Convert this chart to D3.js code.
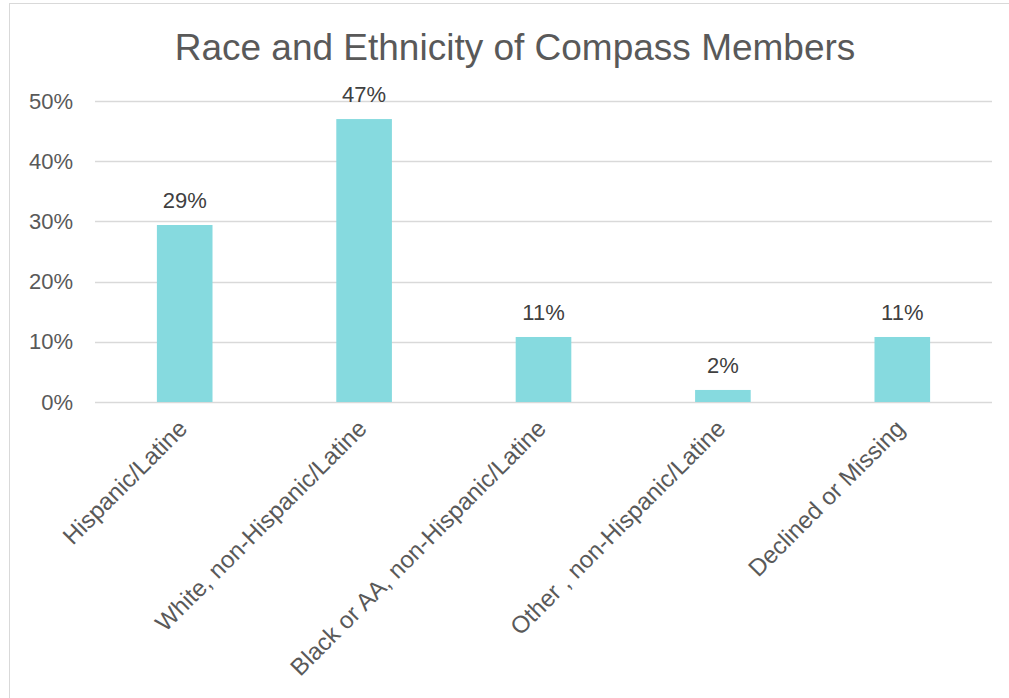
<!DOCTYPE html>
<html>
<head>
<meta charset="utf-8">
<script src="https://cdn.jsdelivr.net/npm/d3@7"></script>
<style>
  body { margin: 0; background: #fff; }
  text { font-family: "Liberation Sans", Arial, sans-serif; }
</style>
</head>
<body>
<div id="app"></div>
<script>
// chart data
const categories = [
  'Hispanic/Latine',
  'White, non-Hispanic/Latine',
  'Black or AA, non-Hispanic/Latine',
  'Other , non-Hispanic/Latine',
  'Declined or Missing'
];
const values = [0.294, 0.47, 0.108, 0.02, 0.108];
const valueLabels = ['29%', '47%', '11%', '2%', '11%'];
const yTicks = [0, 0.1, 0.2, 0.3, 0.4, 0.5];

const W = 1009, H = 698;
const margin = { top: 101, right: 17, bottom: 296, left: 95 };
const width = W - margin.left - margin.right;
const height = H - margin.top - margin.bottom;

const svg = d3.select('#app')
  .append('svg')
  .attr('width', W)
  .attr('height', H);

// chart border
svg.append('rect')
  .attr('x', 9.5).attr('y', 3.5)
  .attr('width', W + 10).attr('height', H + 10)
  .attr('fill', 'none')
  .attr('stroke', '#d9d9d9');

svg.append('text')
  .attr('x', 515).attr('y', 60)
  .attr('text-anchor', 'middle')
  .attr('font-size', 37)
  .attr('fill', '#595959')
  .text('Race and Ethnicity of Compass Members');

const g = svg.append('g')
  .attr('transform', `translate(${margin.left}, ${margin.top})`);

const x = d3.scaleBand()
  .domain(categories)
  .range([0, width])
  .paddingInner(0.69)
  .paddingOuter(0.345);

const y = d3.scaleLinear()
  .domain([0, 0.5])
  .range([height, 0]);

// gridlines
g.selectAll('.grid')
  .data(yTicks)
  .enter()
  .append('line')
  .attr('x1', 0).attr('x2', width)
  .attr('y1', d => Math.round(y(d)) + 0.5)
  .attr('y2', d => Math.round(y(d)) + 0.5)
  .attr('stroke', '#d9d9d9')
  .attr('stroke-width', 1.5);

// y axis labels
const yAxis = d3.axisLeft(y)
  .tickValues(yTicks)
  .tickFormat(d3.format('.0%'))
  .tickSize(0)
  .tickPadding(22);
g.append('g').call(yAxis)
  .call(a => a.select('.domain').remove())
  .selectAll('text')
  .attr('font-size', 22)
  .attr('fill', '#595959');

// bars
g.selectAll('.bar')
  .data(values)
  .enter()
  .append('rect')
  .attr('x', (d, i) => x(categories[i]))
  .attr('y', d => y(d))
  .attr('width', x.bandwidth())
  .attr('height', d => height - y(d))
  .attr('fill', '#86dadf');

// data labels
g.selectAll('.lbl')
  .data(values)
  .enter()
  .append('text')
  .attr('x', (d, i) => x(categories[i]) + x.bandwidth() / 2)
  .attr('y', d => y(d) - 17)
  .attr('text-anchor', 'middle')
  .attr('font-size', 22)
  .attr('fill', '#404040')
  .text((d, i) => valueLabels[i]);

// x axis labels, rotated
const xAxis = d3.axisBottom(x).tickSize(0).tickPadding(0);
g.append('g')
  .attr('transform', `translate(0, ${height})`)
  .call(xAxis)
  .call(a => a.select('.domain').remove())
  .selectAll('text')
  .attr('font-size', 24)
  .attr('fill', '#595959')
  .attr('text-anchor', 'end')
  .attr('dy', 0)
  .attr('transform', 'translate(4, 28) rotate(-45)');
</script>
</body>
</html>
